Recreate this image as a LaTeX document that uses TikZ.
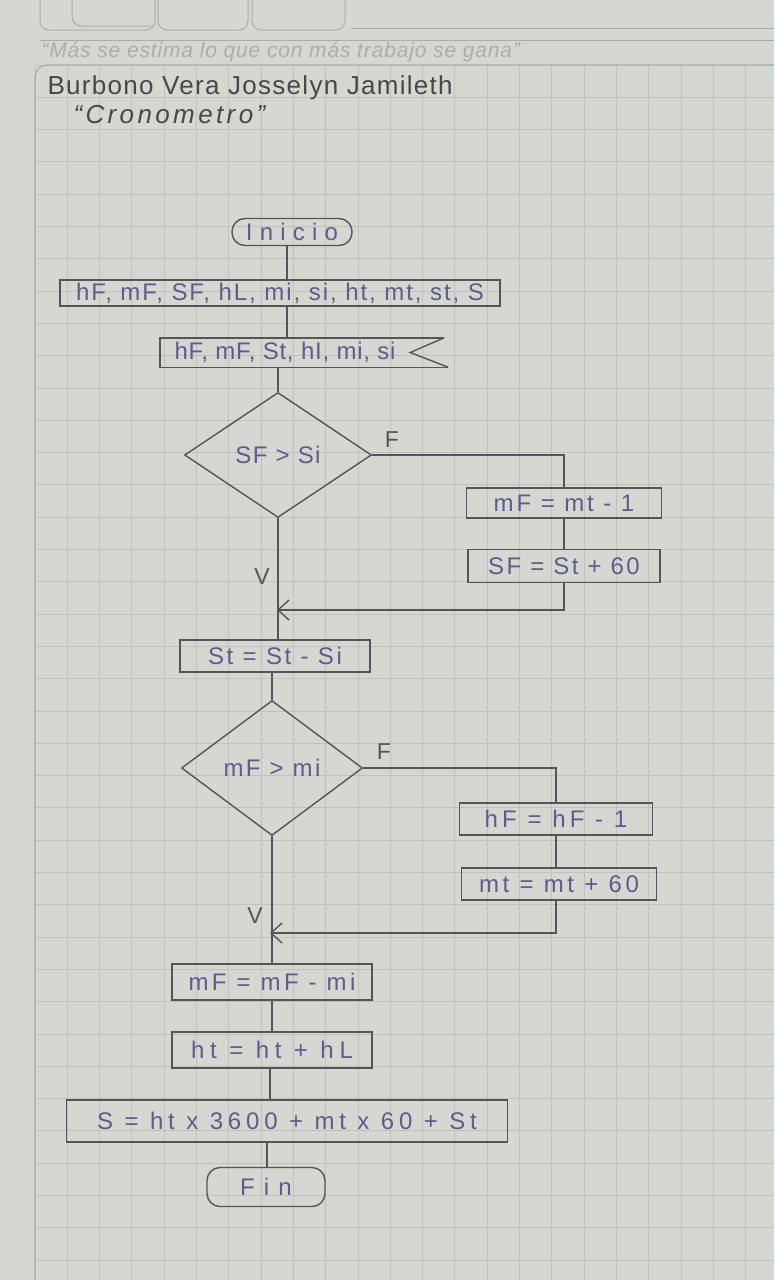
\documentclass[tikz,border=0pt]{standalone}
\usepackage{fontspec}
\setmainfont{Liberation Sans}
\usetikzlibrary{shapes.geometric,arrows.meta}
\definecolor{paper}{HTML}{D5D7D1}
\definecolor{gridc}{HTML}{C0C2BD}
\definecolor{pencil}{HTML}{555555}
\definecolor{ink}{HTML}{5E5C8E}
\definecolor{faint}{HTML}{ABADA8}
\tikzset{
  pen/.style={draw=pencil, line width=1.4pt},
  hw/.style={font=\fontsize{24}{26}\selectfont\addfontfeatures{LetterSpace=#1}},
  proc/.style={rectangle, pen, text=ink, inner sep=0pt},
  term/.style={rectangle, rounded corners=13pt, pen, text=ink, inner sep=0pt},
  decis/.style={diamond, pen, text=ink, inner sep=0pt},
  lbl/.style={text=pencil, font=\fontsize{23}{24}\selectfont},
  conn/.style={pen},
  arr/.style={pen, -{Straight Barb[length=11pt,width=20pt,line width=1.4pt]}}
}
\begin{document}
\begin{tikzpicture}[x=1pt,y=-1pt]
\useasboundingbox (0,0) rectangle (774,1280);
\fill[paper] (0,0) rectangle (774,1280);
% notebook header
\draw[faint, line width=1pt, rounded corners=9pt] (40,-10) -- (40,30) -- (155,30) -- (155,-10);
\draw[faint, line width=1pt, rounded corners=9pt] (72,-10) -- (72,26) -- (153,26);
\draw[faint, line width=1pt, rounded corners=9pt] (158,-10) -- (158,30) -- (248,30) -- (248,-10);
\draw[faint, line width=1pt, rounded corners=9pt] (252,-10) -- (252,30) -- (345,30) -- (345,-10);
\draw[faint, line width=1pt] (352,28) -- (774,28);
\draw[faint, line width=1pt] (40,40) -- (774,40);
\node[anchor=west, text=faint, font=\fontsize{21}{23}\selectfont\itshape\addfontfeatures{LetterSpace=4}] (quote) at (38,52) {“Más se estima lo que con más trabajo se gana”};
% grid
\foreach \i in {0,...,23} \draw[gridc, line width=0.9pt] (35+\i*32.3,65) -- (35+\i*32.3,1280);
\foreach \j in {0,...,37} \draw[gridc, line width=0.9pt] (35,65+\j*32.3) -- (774,65+\j*32.3);
\draw[faint, line width=1.2pt, rounded corners=12pt] (35,1280) -- (35,65) -- (774,65);
% title
\node[anchor=west, text=pencil!85!black, font=\fontsize{26}{28}\selectfont\addfontfeatures{LetterSpace=5}] (title) at (44,88) {Burbono Vera Josselyn Jamileth};
\node[anchor=west, text=pencil!85!black, font=\fontsize{26}{28}\selectfont\itshape\addfontfeatures{LetterSpace=13}] (subtitle) at (70,115) {“Cronometro”};
% flowchart nodes
\node[term, hw=30, minimum width=120pt, minimum height=27pt] (ini) at (292,232) {Inicio};
\node[proc, hw=8, minimum width=440pt, minimum height=26pt] (b1) at (280,293) {hF, mF, SF, hL, mi, si, ht, mt, st, S};
\node[rectangle, hw=3, inner sep=0pt, text=ink, minimum width=250pt, minimum height=29pt] (b2) at (285,352.5) {hF, mF, St, hI, mi, si\hspace{18pt}};
\draw[pen] ([xshift=34pt]b2.north east) -- (b2.north west) -- (b2.south west) -- ([xshift=38pt]b2.south east);
\draw[pen] ([xshift=34pt]b2.north east) -- (b2.east) -- ([xshift=38pt]b2.south east);
\node[decis, hw=6, minimum width=187pt, minimum height=125pt] (d1) at (278,455) {SF > Si};
\node[proc, hw=12, minimum width=195pt, minimum height=30pt] (b3) at (564,503) {mF = mt - 1\hspace{10pt}};
\node[proc, hw=10, minimum width=192pt, minimum height=33pt] (b4) at (564,566) {SF = St + 60};
\coordinate (j1) at (277,610);
\node[proc, hw=11, minimum width=190pt, minimum height=32pt] (b5) at (275,656) {St = St - Si\hspace{12pt}};
\node[decis, hw=10, minimum width=181pt, minimum height=135pt] (d2) at (272,768) {mF > mi};
\node[proc, hw=17, minimum width=193pt, minimum height=32pt] (b6) at (556,819) {hF = hF - 1};
\node[proc, hw=15, minimum width=195pt, minimum height=32pt] (b7) at (559,884) {mt = mt + 60};
\coordinate (j2) at (270,933);
\node[proc, hw=14, minimum width=200pt, minimum height=36pt] (b8) at (272,982) {mF = mF - mi};
\node[proc, hw=24, minimum width=200pt, minimum height=36pt] (b9) at (272,1050) {ht = ht + hL};
\node[proc, hw=20, minimum width=441pt, minimum height=42pt] (b10) at (287,1121) {S = ht x 3600 + mt x 60 + St};
\node[term, hw=38, minimum width=118pt, minimum height=39pt] (fin) at (266,1187) {Fin};
% labels
\node[lbl] (f1) at (392,440) {F};
\node[lbl] (v1) at (262,577) {V};
\node[lbl] (f2) at (384,752) {F};
\node[lbl] (v2) at (255,916) {V};
% connectors
\draw[conn] ([xshift=-5pt]ini.south) -- ([xshift=-5pt]ini.south |- b1.north);
\draw[conn] ([xshift=7pt]b1.south) -- ([xshift=7pt]b1.south |- b2.north);
\draw[conn] (b2.south -| d1.north) -- (d1.north);
\draw[conn] (d1.east) -| (b3.north);
\draw[conn] (b3.south) -- (b4.north);
\draw[arr] (b4.south) |- (j1);
\draw[conn] (d1.south) -- (b5.north -| d1.south);
\draw[conn] (b5.south -| d2.north) -- (d2.north);
\draw[conn] (d2.east) -| (b6.north);
\draw[conn] (b6.south) -- (b7.north -| b6.south);
\draw[arr] (b7.south -| b6.south) |- (j2);
\draw[conn] (d2.south) -- (b8.north -| d2.south);
\draw[conn] (b8.south) -- (b9.north);
\draw[conn] ([xshift=-2pt]b9.south) -- ([xshift=-2pt]b9.south |- b10.north);
\draw[conn] ([xshift=-20pt]b10.south) -- ([xshift=-20pt]b10.south |- fin.north);
\end{tikzpicture}
\end{document}
